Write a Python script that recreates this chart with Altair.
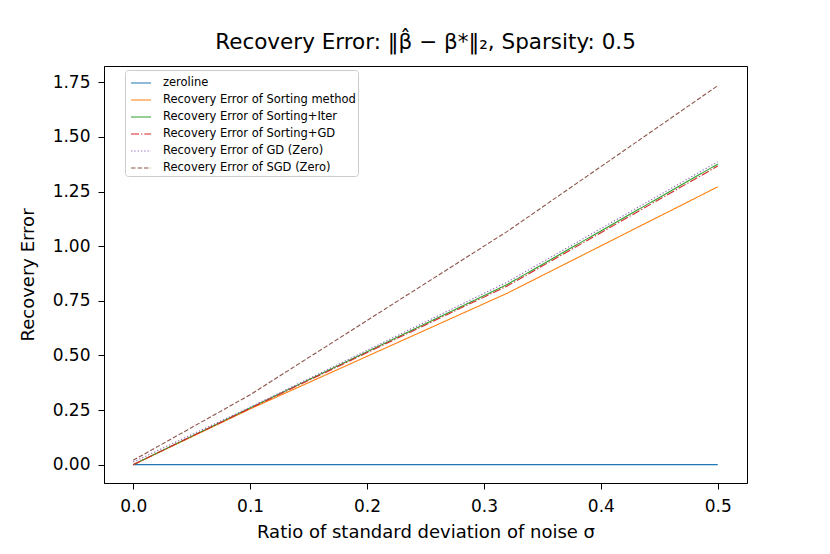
import altair as alt
import pandas as pd

sigma = [0.0, 0.1, 0.32, 0.5]
series_names = [
    "zeroline",
    "Recovery Error of Sorting method",
    "Recovery Error of Sorting+Iter",
    "Recovery Error of Sorting+GD",
    "Recovery Error of GD (Zero)",
    "Recovery Error of SGD (Zero)",
]
zeroline = [0.0, 0.0, 0.0, 0.0]
sorting = [0.0, 0.255, 0.785, 1.272]
sorting_iter = [0.0, 0.26, 0.825, 1.376]
sorting_gd = [0.0, 0.258, 0.818, 1.367]
gd_zero = [0.012, 0.263, 0.836, 1.387]
sgd_zero = [0.02, 0.32, 1.068, 1.735]

colors = ["#1f77b4", "#ff7f0e", "#2ca02c", "#d62728", "#9467bd", "#8c564b"]
dashes = [[1, 0], [1, 0], [1, 0], [8, 2, 1.3, 2], [1.3, 2], [4.5, 2]]

values = [zeroline, sorting, sorting_iter, sorting_gd, gd_zero, sgd_zero]
rows = []
for name, vals in zip(series_names, values):
    for s, v in zip(sigma, vals):
        rows.append({"series": name, "sigma": s, "err": v})
df = pd.DataFrame(rows)

font = "DejaVu Sans"

chart = alt.Chart(df).mark_line(strokeWidth=1.1, clip=True).encode(
    x=alt.X("sigma:Q", scale=alt.Scale(domain=[-0.025, 0.525], nice=False, zero=False),
            axis=alt.Axis(values=[0.0, 0.1, 0.2, 0.3, 0.4, 0.5], format=".1f",
                          title="Ratio of standard deviation of noise σ")),
    y=alt.Y("err:Q", scale=alt.Scale(domain=[-0.084, 1.825], nice=False, zero=False),
            axis=alt.Axis(values=[0, 0.25, 0.5, 0.75, 1.0, 1.25, 1.5, 1.75], format=".2f",
                          title="Recovery Error")),
    color=alt.Color("series:N", scale=alt.Scale(domain=series_names, range=colors),
                    legend=alt.Legend(title=None)),
    strokeDash=alt.StrokeDash("series:N", scale=alt.Scale(domain=series_names, range=dashes),
                              legend=alt.Legend(title=None)),
    order=alt.Order("sigma:Q"),
).properties(
    width=643,
    height=417,
    title=alt.Title("Recovery Error: ‖β̂ − β*‖₂, Sparsity: 0.5", font=font, fontSize=21.5,
                    fontWeight="normal", color="black", offset=13),
    autosize=alt.AutoSizeParams(type="none"),
    padding={"left": 96, "top": 58, "right": 20, "bottom": 70},
).configure_view(
    stroke="black", strokeWidth=1
).configure_axis(
    labelFont=font, titleFont=font, labelFontSize=17, titleFontSize=18,
    labelColor="black", titleColor="black", titleFontWeight="normal",
    domainColor="black", tickColor="black", tickSize=6, grid=False,
).configure_axisX(
    labelPadding=9, titlePadding=9,
).configure_axisY(
    labelPadding=8, titlePadding=15,
).configure_legend(
    orient="none", legendX=21, legendY=4,
    labelFont=font, labelFontSize=11.5, labelColor="black",
    symbolType="stroke", symbolSize=400, symbolStrokeWidth=1.1, symbolOffset=3,
    strokeColor="#cccccc", fillColor="white", cornerRadius=3, padding=2,
    rowPadding=-3, labelOffset=11, labelLimit=400,
)

chart.save("out.html", embed_options={"renderer": "svg", "actions": False})
